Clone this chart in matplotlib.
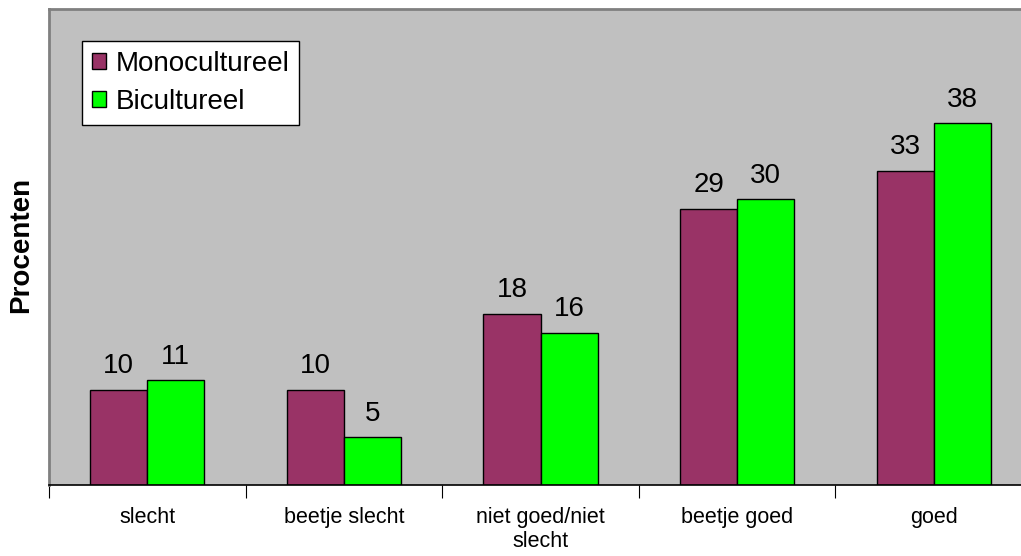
import matplotlib
matplotlib.use("Agg")
import matplotlib.pyplot as plt
import numpy as np

plt.rcParams['font.family'] = ['Liberation Sans', 'DejaVu Sans']

categories = ["slecht", "beetje slecht", "niet goed/niet\nslecht", "beetje goed", "goed"]
series_names = ["Monocultureel", "Bicultureel"]
mono = [10, 10, 18, 29, 33]
bi = [11, 5, 16, 30, 38]
colors = ["#993366", "#00FF00"]

W, H = 1021, 556
fig = plt.figure(figsize=(W / 100, H / 100), dpi=100)
left, right = 49 / W, 1032 / W
bottom, top = 1 - 485 / H, 1 - 9 / H
ax = fig.add_axes([left, bottom, right - left, top - bottom])
ax.set_facecolor("#C0C0C0")

x = np.arange(len(categories))
bw = 0.29
b1 = ax.bar(x - bw / 2, mono, bw, color=colors[0], edgecolor="black", linewidth=1.0, label=series_names[0])
b2 = ax.bar(x + bw / 2, bi, bw, color=colors[1], edgecolor="black", linewidth=1.0, label=series_names[1])

for bars, vals in ((b1, mono), (b2, bi)):
    for r, v in zip(bars, vals):
        ax.annotate(str(v), (r.get_x() + r.get_width() / 2, r.get_height()),
                    xytext=(0, 12), textcoords="offset points", ha="center", va="baseline",
                    fontsize=20)

ax.set_xlim(-0.5, len(categories) - 0.5)
ax.set_ylim(0, 50)
ax.set_yticks([])
ax.set_xticks(np.arange(-0.5, len(categories)), labels=[""] * (len(categories) + 1))
ax.tick_params(axis="x", which="major", length=9, width=0.8, color="black", direction="out")
ax.set_xticks(x, minor=True)
ax.set_xticklabels(categories, minor=True, fontsize=15.5, linespacing=1.15)
ax.tick_params(axis="x", which="minor", length=0, pad=16)

for s in ("top", "left", "right"):
    ax.spines[s].set_color("#808080")
    ax.spines[s].set_linewidth(2)
ax.spines["bottom"].set_color("black")
ax.spines["bottom"].set_linewidth(1.2)

fig.text(21 / W, 1 - 245 / H, "Procenten", rotation=90, ha="center", va="center",
         fontsize=20, fontweight="bold")

leg = ax.legend(loc="upper left", bbox_to_anchor=(82 / W, 1 - 41 / H),
                bbox_transform=fig.transFigure, fontsize=20, frameon=True,
                fancybox=False, edgecolor="black", facecolor="white", framealpha=1,
                handlelength=0.5, handleheight=0.5, handletextpad=0.35,
                borderpad=0.35, labelspacing=0.45, borderaxespad=0)
leg.get_frame().set_linewidth(1.0)

fig.savefig("out.png", dpi=100)
